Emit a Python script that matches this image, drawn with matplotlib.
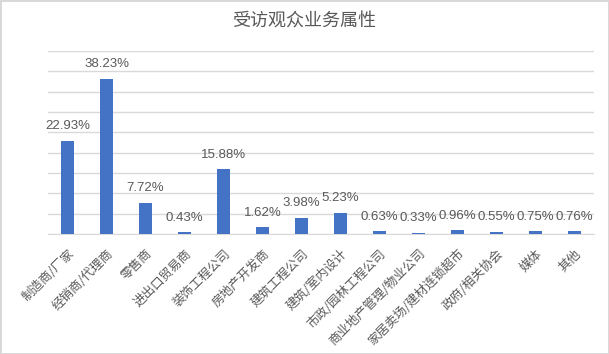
import matplotlib.pyplot as plt
import numpy as np

plt.rcParams['font.family'] = ['Noto Sans CJK SC', 'DejaVu Sans']

categories = ['制造商/厂家', '经销商/代理商', '零售商', '进出口贸易商', '装饰工程公司',
              '房地产开发商', '建筑工程公司', '建筑/室内设计', '市政/园林工程公司',
              '商业地产管理/物业公司', '家居卖场/建材连锁超市', '政府/相关协会', '媒体', '其他']
values = [22.93, 38.23, 7.72, 0.43, 15.88, 1.62, 3.98, 5.23, 0.63, 0.33, 0.96, 0.55, 0.75, 0.76]

text_color = '#595959'
grid_color = '#d9d9d9'

fig = plt.figure(figsize=(6.09, 3.54), dpi=100)
fig.patch.set_edgecolor(grid_color)
fig.patch.set_linewidth(2)
ax = fig.add_axes([0.079, 0.339, 0.896, 0.517])

x = np.arange(len(categories))
bars = ax.bar(x, values, width=0.33, color='#4472c4', zorder=3)

for xi, v in zip(x, values):
    ax.annotate(f'{v:.2f}%', (xi, v), xytext=(0, 6), textcoords='offset points',
                ha='center', va='bottom', fontsize=9.5, color=text_color,
                family=['Liberation Sans', 'DejaVu Sans'])

ax.set_xlim(-0.5, len(categories) - 0.5)
ax.set_ylim(0, 45)
ax.set_yticks(np.arange(0, 46, 5))
ax.set_yticklabels([])
ax.grid(axis='y', color=grid_color, linewidth=1, zorder=0)
for s in ['top', 'right', 'left']:
    ax.spines[s].set_visible(False)
ax.spines['bottom'].set_color(grid_color)
ax.tick_params(axis='both', length=0)
ax.set_xticks(x)
ax.set_xticklabels(categories, rotation=45, ha='right', rotation_mode='anchor',
                   fontsize=9, color=text_color)
for lbl in ax.get_xticklabels():
    lbl.set_y(-0.045)

fig.text(0.5, 0.94, '受访观众业务属性', ha='center', va='center', fontsize=13, color=text_color)

plt.savefig('out.png', dpi=100)
